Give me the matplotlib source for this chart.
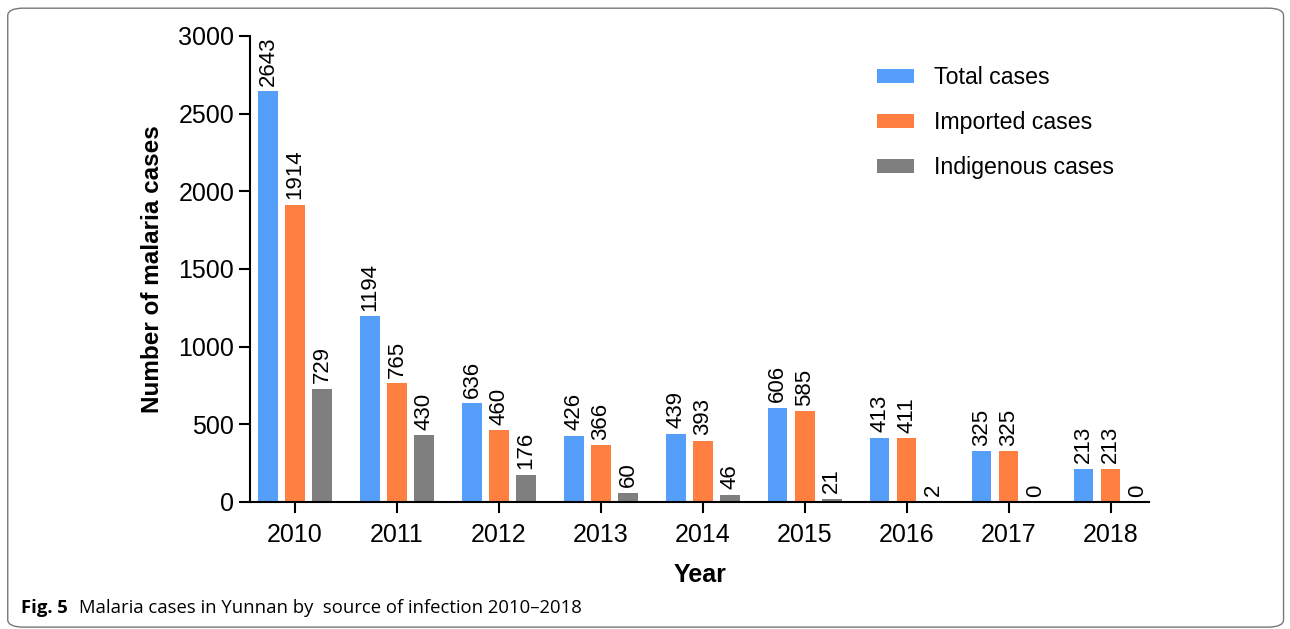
import matplotlib.pyplot as plt
import numpy as np
from matplotlib.patches import FancyBboxPatch

years = ['2010', '2011', '2012', '2013', '2014', '2015', '2016', '2017', '2018']
total = [2643, 1194, 636, 426, 439, 606, 413, 325, 213]
imported = [1914, 765, 460, 366, 393, 585, 411, 325, 213]
indigenous = [729, 430, 176, 60, 46, 21, 2, 0, 0]

series = [('Total cases', total, '#559ffb'),
          ('Imported cases', imported, '#ff7f40'),
          ('Indigenous cases', indigenous, '#7f7f7f')]


def MalariaChart():
	plt.rcParams['font.family'] = ['Liberation Sans', 'DejaVu Sans']
	fig = plt.figure(figsize=(12.9, 6.29), dpi=100)
	ax = fig.add_axes([0.194, 0.202, 0.697, 0.741])

	x = np.arange(len(years))
	width = 0.19
	offsets = [-0.265, 0.0, 0.265]
	for (name, vals, col), off in zip(series, offsets):
		bars = ax.bar(x + off, vals, width, color=col, label=name)
		for b, v in zip(bars, vals):
			ax.text(b.get_x() + b.get_width() / 2, v + 35, str(v), rotation=90,
				ha='center', va='bottom', fontsize=16)

	ax.set_xlim(-0.44, 8.38)
	ax.set_ylim(0, 3000)
	ax.set_yticks(range(0, 3001, 500))
	ax.set_xticks(x)
	ax.set_xticklabels(years)
	ax.tick_params(axis='both', labelsize=18, width=1.5, length=8, direction='out')
	ax.tick_params(axis='x', pad=7)
	ax.spines['top'].set_visible(False)
	ax.spines['right'].set_visible(False)
	ax.spines['left'].set_linewidth(1.5)
	ax.spines['bottom'].set_linewidth(1.5)
	ax.set_xlabel('Year', fontsize=18, fontweight='bold', labelpad=12)
	ax.set_ylabel('Number of malaria cases', fontsize=17.5, fontweight='bold', labelpad=10)

	ax.legend(loc='upper right', bbox_to_anchor=(0.984, 0.98), frameon=False, fontsize=16.7,
		handlelength=1.6, handleheight=0.6, labelspacing=0.95, handletextpad=0.85)

	# rounded frame and caption
	frame = FancyBboxPatch((0.006, 0.003), 0.989, 0.984, boxstyle='round,pad=0,rounding_size=0.012',
		transform=fig.transFigure, fill=False, edgecolor='#777777', linewidth=1)
	fig.patches.append(frame)
	fig.text(0.016, 0.033, 'Fig. 5', fontsize=13.3, fontweight='bold', va='center',
		family=['Open Sans', 'DejaVu Sans'])
	fig.text(0.061, 0.033, 'Malaria cases in Yunnan by  source of infection 2010\u20132018', fontsize=13.3,
		va='center', family=['Open Sans', 'DejaVu Sans'])

	fig.savefig('out.png', dpi=100)


def main():
	MalariaChart()


if __name__ == "__main__":
	main()
